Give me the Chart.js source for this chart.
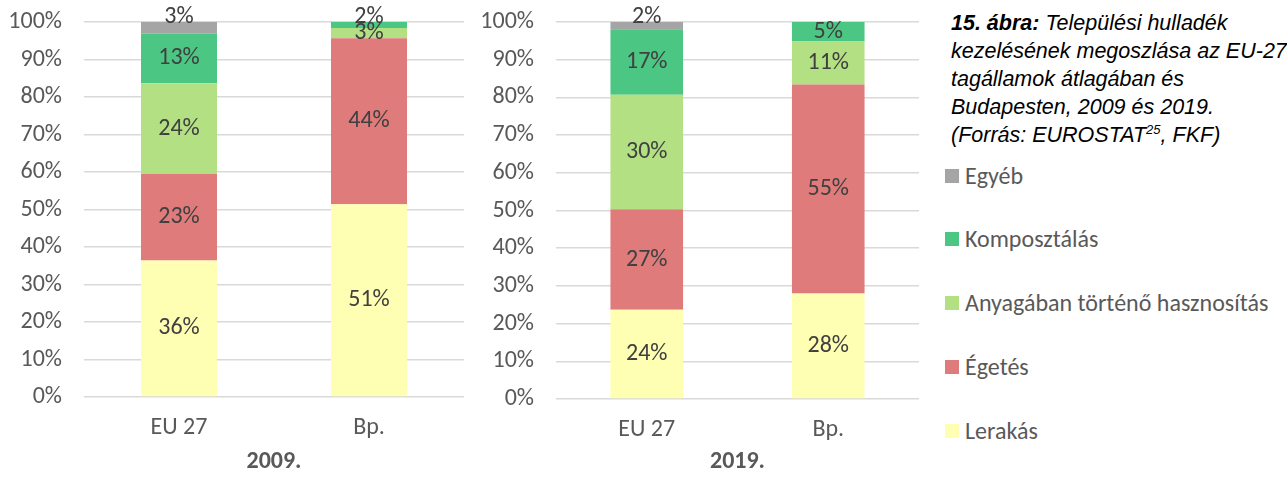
<!DOCTYPE html>
<html>
<head>
<meta charset="utf-8">
<script src="https://cdn.jsdelivr.net/npm/chart.js@4"></script>
<style>
  body { margin: 0; background: #fff; width: 1287px; height: 477px; position: relative; overflow: hidden; }
  .box { position: absolute; top: 0; height: 477px; }
  #caption { position: absolute; left: 951px; top: 9px; font-family: "Liberation Sans", Arial, sans-serif; white-space: nowrap;
    font-style: italic; font-size: 21.5px; line-height: 28px; color: #000; }
  #caption sup { font-size: 13px; line-height: 0; }
  #legend { position: absolute; left: 945px; top: 0; font-family: Carlito, Lato, sans-serif; font-size: 24px; color: #595959; }
  .item { position: absolute; left: 0; white-space: nowrap; height: 28px; line-height: 28px; }
  .item span.sw { position: absolute; left: 0; top: 7px; width: 14px; height: 14px; }
  .item span.tx { position: absolute; left: 20px; top: 0; }
</style>
</head>
<body>
<div class="box" style="left:0;width:470px"><canvas id="chart2009"></canvas></div>
<div class="box" style="left:470px;width:460px"><canvas id="chart2019"></canvas></div>
<div id="caption"><b>15. ábra:</b> Települési hulladék<br>kezelésének megoszlása az EU-27<br>tagállamok átlagában és<br>Budapesten, 2009 és 2019.<br>(Forrás: EUROSTAT<sup>25</sup>, FKF)</div>
<div id="legend"></div>
<script>
// categories and series (shares in %)
var categories = ["EU 27", "Bp."];
var seriesNames = ["Lerakás", "Égetés", "Anyagában történő hasznosítás", "Komposztálás", "Egyéb"];
var seriesColors = ["#ffffb3", "#e07b7b", "#b4e084", "#4cc683", "#a5a5a5"];

var lerakas2009 = [36.4, 51.4];
var egetes2009 = [23.1, 44.3];
var anyag2009 = [24.2, 2.7];
var komposzt2009 = [13.2, 1.6];
var egyeb2009 = [3.1, 0];

var lerakas2019 = [23.7, 28.0];
var egetes2019 = [26.6, 55.4];
var anyag2019 = [30.4, 11.4];
var komposzt2019 = [17.4, 5.2];
var egyeb2019 = [1.9, 0];

var yTicks = [0, 10, 20, 30, 40, 50, 60, 70, 80, 90, 100];

var FONT = "Carlito, Lato, sans-serif";

// draws the % value in the middle of each segment
var segLabels = {
    id: "segLabels",
    afterDatasetsDraw: function (chart) {
        var ctx = chart.ctx;
        ctx.save();
        ctx.font = "24px " + FONT;
        ctx.fillStyle = "#404040";
        ctx.textAlign = "center";
        ctx.textBaseline = "middle";
        var n = chart.data.datasets.length;
        chart.data.datasets.forEach(function (ds, i) {
            var meta = chart.getDatasetMeta(i);
            meta.data.forEach(function (bar, j) {
                var v = ds.data[j];
                if (!v) return;
                var top = Math.min(bar.y, bar.base);
                var h = Math.abs(bar.base - bar.y);
                var y = (bar.y + bar.base) / 2;
                // is this the topmost non-empty segment?
                var isTop = true;
                for (var k = i + 1; k < n; k++) {
                    if (chart.data.datasets[k].data[j]) isTop = false;
                }
                if (isTop && h < 14) y = top - 5;
                ctx.fillText(Math.round(v) + "%", bar.x, y);
            });
        });
        ctx.restore();
    },
};

function drawChart(id, year, values, yWidth, xHeight, padRight, tickPad) {
    var ctx = document.getElementById(id).getContext("2d");
    return new Chart(ctx, {
        type: "bar",
        data: {
            labels: categories,
            datasets: values.map(function (d, i) {
                return {
                    label: seriesNames[i],
                    data: d,
                    backgroundColor: seriesColors[i],
                    borderWidth: 0,
                    categoryPercentage: 0.8,
                    barPercentage: 0.5,
                };
            }),
        },
        options: {
            responsive: true,
            maintainAspectRatio: false,
            animation: false,
            layout: { padding: { top: 22, right: padRight, left: 0, bottom: 0 } },
            plugins: { legend: { display: false }, tooltip: { enabled: false } },
            scales: {
                x: {
                    stacked: true,
                    grid: { display: false, drawTicks: false },
                    border: { display: false },
                    ticks: { color: "#595959", font: { family: FONT, size: 24 }, padding: tickPad },
                    title: {
                        display: true,
                        text: year,
                        color: "#595959",
                        font: { family: FONT, size: 24, weight: "bold" },
                        padding: { top: 0, bottom: 1 },
                    },
                    afterFit: function (s) { s.height = xHeight; },
                },
                y: {
                    stacked: true,
                    min: 0,
                    max: 100,
                    afterBuildTicks: function (s) {
                        s.ticks = yTicks.map(function (v) { return { value: v }; });
                    },
                    grid: { color: "#d9d9d9", lineWidth: 1.5, drawTicks: false },
                    border: { display: false },
                    ticks: {
                        color: "#595959",
                        font: { family: FONT, size: 24 },
                        padding: 22,
                        callback: function (v) { return v + "%"; },
                    },
                    afterFit: function (s) {
                        s.width = yWidth;
                        s.paddingTop = 0;
                        s.paddingBottom = 0;
                    },
                },
            },
        },
        plugins: [segLabels],
    });
}

function buildLegend() {
    var el = document.getElementById("legend");
    var tops = [162, 225, 289, 353, 417];
    for (var i = seriesNames.length - 1, r = 0; i >= 0; i--, r++) {
        var item = document.createElement("div");
        item.className = "item";
        item.style.top = tops[r] + "px";
        item.innerHTML = '<span class="sw" style="background:' + seriesColors[i] + '"></span><span class="tx">' + seriesNames[i] + "</span>";
        el.appendChild(item);
    }
}

window.onload = function () {
    drawChart("chart2009", "2009.", [lerakas2009, egetes2009, anyag2009, komposzt2009, egyeb2009], 84, 80, 6, 17);
    drawChart("chart2019", "2019.", [lerakas2019, egetes2019, anyag2019, komposzt2019, egyeb2019], 86, 78, 11, 17);
    buildLegend();
};
</script>
</body>
</html>
